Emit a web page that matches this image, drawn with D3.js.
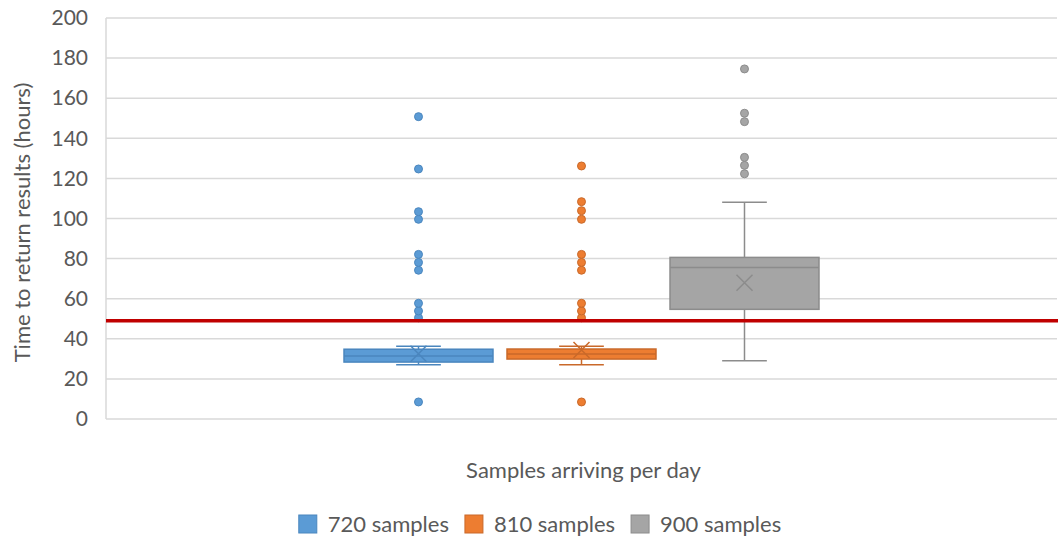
<!DOCTYPE html>
<html>
<head>
<meta charset="utf-8">
<script src="https://cdn.jsdelivr.net/npm/d3@7"></script>
<style>
	body { margin: 0; background: #fff; }
	svg text { font-family: Lato, 'Open Sans', sans-serif; fill: #595959; }
</style>
</head>
<body>
<svg id="chart" width="1058" height="537"></svg>
<script>
const CATEGORY = ['Samples arriving per day'];
const SERIES = ['720 samples', '810 samples', '900 samples'];
const Q1 = [28.4, 29.9, 54.7];
const MEDIAN = [31.4, 32.4, 75.5];
const Q3 = [34.8, 34.9, 80.6];
const WHISKER_LO = [27.1, 27.1, 29.1];
const WHISKER_HI = [36.3, 36.3, 108.1];
const MEAN = [32.5, 34.4, 68];
const OUTLIERS = [
	[8.5, 50.5, 53.9, 57.7, 74.2, 78.1, 82.1, 99.6, 103.4, 124.7, 150.8],
	[8.5, 50.5, 53.9, 57.7, 74.2, 78.1, 82.1, 99.6, 103.9, 108.4, 126.2],
	[122.3, 126.5, 130.5, 148.3, 152.5, 174.6]
];
const Y_TICKS = [0, 20, 40, 60, 80, 100, 120, 140, 160, 180, 200];
const TARGET = 49;

const FILL = ['#5b9bd5', '#ed7d31', '#a5a5a5'];
const STROKE = ['#4a86be', '#c9692a', '#8c8c8c'];

const margin = { top: 18, right: 1, bottom: 118, left: 106 };
const width = 1058;
const height = 537;
const $svg = d3.select('#chart');

const y = d3.scaleLinear()
	.domain([0, 200])
	.range([height - margin.bottom, margin.top]);

const x0 = d3.scaleBand()
	.domain(CATEGORY)
	.range([margin.left, width - margin.right])
	.paddingInner(0)
	.paddingOuter(0.4724);

const x1 = d3.scaleBand()
	.domain(SERIES)
	.range([0, x0.bandwidth()])
	.paddingInner(0.086)
	.paddingOuter(0.043);

// gridlines
$svg.append('g')
	.selectAll('line')
	.data(Y_TICKS)
	.join('line')
	.attr('x1', margin.left)
	.attr('x2', width - margin.right)
	.attr('y1', d => y(d))
	.attr('y2', d => y(d))
	.attr('stroke', '#d9d9d9')
	.attr('stroke-width', 1.5);

$svg.append('line')
	.attr('x1', margin.left)
	.attr('x2', margin.left)
	.attr('y1', y(200))
	.attr('y2', y(0))
	.attr('stroke', '#d9d9d9')
	.attr('stroke-width', 1.5);

// y axis labels
const yAxis = d3.axisLeft(y).tickValues(Y_TICKS).tickSize(0).tickPadding(18);
const $yAxis = $svg.append('g')
	.attr('transform', `translate(${margin.left},0)`)
	.call(yAxis);
$yAxis.select('.domain').remove();
$yAxis.selectAll('text')
	.style('font-size', '21px')
	.attr('fill', '#595959');

$svg.append('text')
	.attr('transform', `translate(30,${y(98)}) rotate(-90)`)
	.attr('text-anchor', 'middle')
	.style('font-size', '22px')
	.text('Time to return results (hours)');

$svg.append('text')
	.attr('x', x0(CATEGORY[0]) + x0.bandwidth() / 2 + 2)
	.attr('y', 478)
	.attr('text-anchor', 'middle')
	.style('font-size', '22px')
	.text(CATEGORY[0]);

// boxes
const boxData = SERIES.map((s, i) => ({
	s, i,
	q1: Q1[i], med: MEDIAN[i], q3: Q3[i],
	lo: WHISKER_LO[i], hi: WHISKER_HI[i], mean: MEAN[i],
	out: OUTLIERS[i]
}));

const $box = $svg.append('g')
	.selectAll('g.box')
	.data(boxData)
	.join('g')
	.attr('class', 'box')
	.attr('transform', d => `translate(${x0(CATEGORY[0]) + x1(d.s)},0)`);

const bw = x1.bandwidth();
const cx = bw / 2;
const cap = bw * 0.3;

$box.append('line')
	.attr('x1', cx).attr('x2', cx)
	.attr('y1', d => y(d.hi)).attr('y2', d => y(d.q3))
	.attr('stroke', d => STROKE[d.i]).attr('stroke-width', 1.5);
$box.append('line')
	.attr('x1', cx).attr('x2', cx)
	.attr('y1', d => y(d.q1)).attr('y2', d => y(d.lo))
	.attr('stroke', d => STROKE[d.i]).attr('stroke-width', 1.5);
$box.append('line')
	.attr('x1', cx - cap / 2).attr('x2', cx + cap / 2)
	.attr('y1', d => y(d.hi)).attr('y2', d => y(d.hi))
	.attr('stroke', d => STROKE[d.i]).attr('stroke-width', 1.5);
$box.append('line')
	.attr('x1', cx - cap / 2).attr('x2', cx + cap / 2)
	.attr('y1', d => y(d.lo)).attr('y2', d => y(d.lo))
	.attr('stroke', d => STROKE[d.i]).attr('stroke-width', 1.5);

$box.append('rect')
	.attr('x', 0)
	.attr('width', bw)
	.attr('y', d => y(d.q3))
	.attr('height', d => y(d.q1) - y(d.q3))
	.attr('fill', d => FILL[d.i])
	.attr('stroke', d => STROKE[d.i])
	.attr('stroke-width', 1.5);

$box.append('line')
	.attr('x1', 0).attr('x2', bw)
	.attr('y1', d => y(d.med)).attr('y2', d => y(d.med))
	.attr('stroke', d => STROKE[d.i]).attr('stroke-width', 1.5);

// mean marker (x)
const mk = 8;
$box.append('path')
	.attr('d', d => {
		const my = y(d.mean);
		return `M${cx - mk},${my - mk}L${cx + mk},${my + mk}M${cx - mk},${my + mk}L${cx + mk},${my - mk}`;
	})
	.attr('stroke', d => STROKE[d.i])
	.attr('stroke-width', 1.5)
	.attr('fill', 'none');

// outliers
$box.selectAll('circle')
	.data(d => d.out.map(v => ({ v, i: d.i })))
	.join('circle')
	.attr('cx', cx)
	.attr('cy', d => y(d.v))
	.attr('r', 4)
	.attr('fill', d => FILL[d.i])
	.attr('stroke', d => STROKE[d.i])
	.attr('stroke-width', 1);

// target line
$svg.append('line')
	.attr('x1', margin.left)
	.attr('x2', width)
	.attr('y1', y(TARGET))
	.attr('y2', y(TARGET))
	.attr('stroke', '#c00000')
	.attr('stroke-width', 3.5);

// legend
const $legend = $svg.append('g');
const $items = $legend.selectAll('g')
	.data(SERIES)
	.join('g');
$items.append('rect')
	.attr('width', 18).attr('height', 18)
	.attr('y', -9)
	.attr('fill', (d, i) => FILL[i])
	.attr('stroke', (d, i) => STROKE[i])
	.attr('stroke-width', 1);
$items.append('text')
	.attr('x', 29)
	.attr('dy', '0.35em')
	.style('font-size', '22px')
	.text(d => d);

let lx = 0;
$items.each(function () {
	const w = d3.select(this).select('text').node().getComputedTextLength();
	d3.select(this).attr('transform', `translate(${lx},0)`);
	lx += 29 + w + 16;
});
lx -= 16;
$legend.attr('transform', `translate(${540 - lx / 2},524)`);
</script>
</body>
</html>
